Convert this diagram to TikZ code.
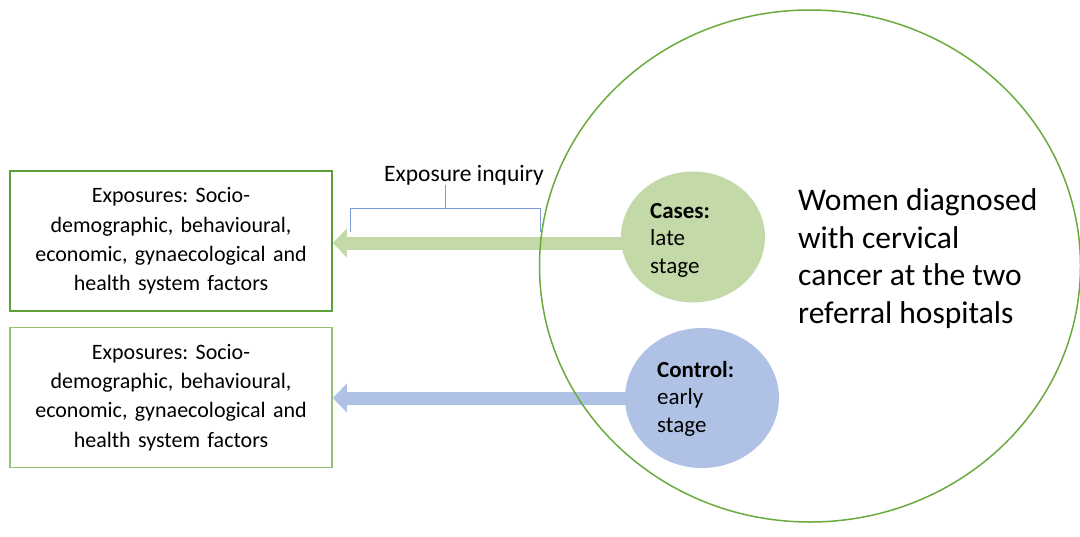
\documentclass[tikz,border=0pt]{standalone}
\usepackage{fontspec}
\setmainfont{Carlito}
\usetikzlibrary{arrows.meta,shapes.geometric,calc}
\definecolor{bigline}{HTML}{6AAB3E}
\definecolor{boxAline}{HTML}{5E9E36}
\definecolor{boxBline}{HTML}{93C471}
\definecolor{casefill}{HTML}{C3D9A8}
\definecolor{ctrlfill}{HTML}{AFC2E6}
\definecolor{brk}{HTML}{7A9BD6}
\tikzset{
  expbox/.style={draw, line width=1.5pt, minimum width=322pt, minimum height=140pt, inner sep=0pt,
    font=\fontsize{22}{29.3}\selectfont\frenchspacing, align=center, text width=318pt},
  grp/.style={ellipse, inner sep=0pt},
  grptext/.style={font=\fontsize{23}{27.5}\selectfont, align=left, anchor=base west, inner sep=0pt},
  fatarrow/.style={line width=13pt, -{Triangle[length=14pt,width=28pt]}, shorten >=0pt},
}
\begin{document}
\begin{tikzpicture}[x=1pt,y=-1pt]
\useasboundingbox (0,0) rectangle (1080,536);
% boxes
\node[expbox, draw=boxAline] (boxA) at (171,241) {Exposures: Socio-\\demographic, behavioural,\\economic, gynaecological and\\health system factors};
\node[expbox, draw=boxBline] (boxB) at (171,397.5) {Exposures: Socio-\\demographic, behavioural,\\economic, gynaecological and\\health system factors};
% group ellipses
\node[grp, fill=casefill, minimum width=144pt, minimum height=131pt] (cases) at (693,237) {};
\node[grp, fill=ctrlfill, minimum width=154pt, minimum height=140pt] (ctrl) at (702,398) {};
\node[grptext] (casestxt) at (650,273) {\textbf{Cases:}\\late\\stage};
\node[grptext] (ctrltxt) at (657,432) {\textbf{Control:}\\early\\stage};
% arrows
\coordinate (aS) at ($(cases.west)+(4,6)$);
\coordinate (bS) at ($(ctrl.west)+(4,0)$);
\draw[fatarrow, draw=casefill, color=casefill] (aS) -- (boxA.east |- aS);
\draw[fatarrow, draw=ctrlfill, color=ctrlfill] (bS) -- (boxB.east |- bS);
% big ellipse
\node[grp, draw=bigline, line width=1.5pt, minimum width=541pt, minimum height=512pt] (big) at (810,266) {};
\node[font=\fontsize{31.5}{37.5}\selectfont, align=left, anchor=base west, inner sep=0pt] (bigtxt) at (798,323) {Women diagnosed\\with cervical\\cancer at the two\\referral hospitals};
% bracket
\coordinate (bL) at (350,232);
\coordinate (bR) at (540,232);
\coordinate (bM) at (445,185);
\draw[brk, line width=1pt] (bL) -- (bL |- 0,208) -- (bR |- 0,208) -- (bR);
\draw[brk, line width=1pt] (bM |- 0,208) -- (bM);
\node[font=\fontsize{23.5}{28}\selectfont, anchor=base, inner sep=0pt] (inq) at (464,181) {Exposure inquiry};
\end{tikzpicture}
\end{document}
